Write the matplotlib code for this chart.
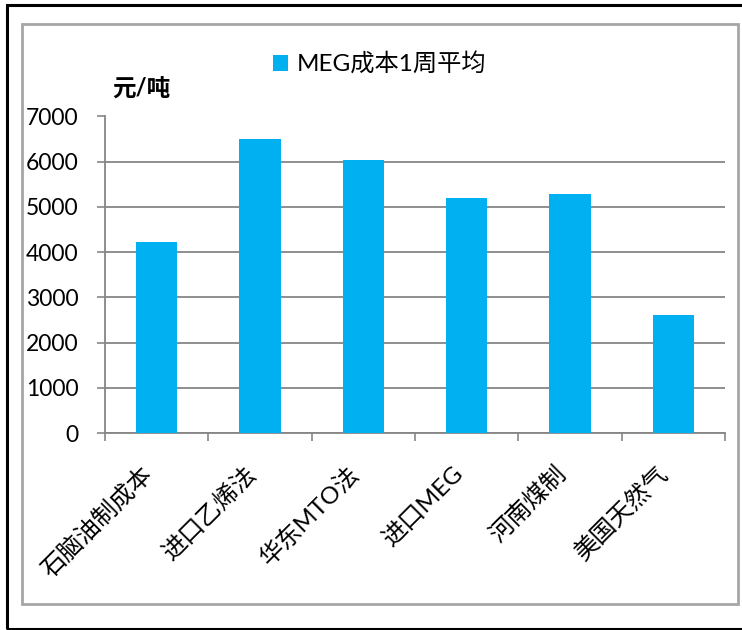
import matplotlib
matplotlib.use("Agg")
import matplotlib.pyplot as plt
from matplotlib.patches import Rectangle
import numpy as np

plt.rcParams['font.family'] = ['Lato', 'Noto Sans CJK SC', 'DejaVu Sans']

# data
categories = ['石脑油制成本', '进口乙烯法', '华东MTO法', '进口MEG', '河南煤制', '美国天然气']
cost_1w = [4220, 6500, 6030, 5190, 5280, 2600]
series_name = 'MEG成本1周平均'
unit_label = '元/吨'
y_ticks = [0, 1000, 2000, 3000, 4000, 5000, 6000, 7000]

BAR_COLOR = '#00B0F0'
GRID_COLOR = '#868686'

W, H = 742, 630
fig = plt.figure(figsize=(W / 100, H / 100), dpi=100)

# outer black frame and inner grey chart frame
fig.patches.append(Rectangle((7 / W, 1 - 629 / H), 800 / W, 624 / H, transform=fig.transFigure,
                             fill=False, edgecolor='black', linewidth=2.2, zorder=0))
fig.patches.append(Rectangle((22 / W, 1 - 604 / H), 716 / W, 580 / H, transform=fig.transFigure,
                             fill=False, edgecolor='#A6A6A6', linewidth=2.0, zorder=0))

ax = fig.add_axes([105 / W, 1 - 433 / H, 620 / W, 316.5 / H])
x = np.arange(len(categories))
ax.bar(x, cost_1w, width=0.4, color=BAR_COLOR, label=series_name, zorder=3)

ax.set_xlim(-0.5, len(categories) - 0.5)
ax.set_ylim(0, 7000)
ax.set_yticks(y_ticks)
ax.set_yticklabels([str(v) for v in y_ticks], fontsize=16.5)
ax.yaxis.grid(True, color=GRID_COLOR, linewidth=1.3, zorder=0)

ax.set_xticks(x)
ax.set_xticklabels(categories, rotation=45, ha='right', va='top', fontsize=17.5)
ax.set_xticks(np.arange(len(categories) + 1) - 0.5, minor=True)
ax.tick_params(axis='x', which='major', length=0, pad=21)
ax.tick_params(axis='x', which='minor', length=6, width=1.2, color=GRID_COLOR, direction='out')
ax.tick_params(axis='y', length=6, width=1.2, color=GRID_COLOR, direction='out', pad=13)

for side in ['top', 'right']:
    ax.spines[side].set_visible(False)
for side in ['left', 'bottom']:
    ax.spines[side].set_color(GRID_COLOR)
    ax.spines[side].set_linewidth(1.3)

fig.legend(loc='center left', bbox_to_anchor=(273 / W, 1 - 64 / H), frameon=False,
           fontsize=17.5, handlelength=0.62, handleheight=0.62, handletextpad=0.35,
           borderpad=0, borderaxespad=0)

fig.text(112 / W, 1 - 89 / H, unit_label, fontsize=17, fontweight='bold', va='center', ha='left')

fig.savefig('out.png', dpi=100)
